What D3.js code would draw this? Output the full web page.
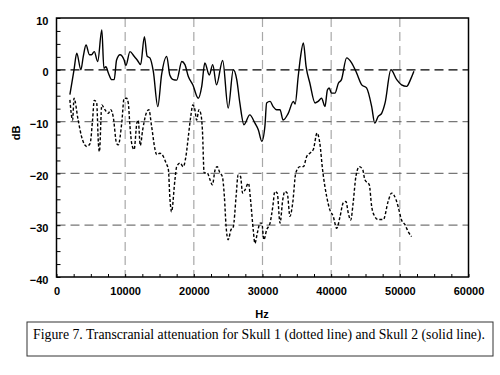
<!DOCTYPE html>
<html>
<head>
<meta charset="utf-8">
<script src="https://cdn.jsdelivr.net/npm/d3@7"></script>
<style>
body { margin: 0; background: #fff; }
</style>
</head>
<body>
<div id="chart"></div>
<script>
// Skull 1 (dotted line): frequency in Hz and attenuation in dB.
const skull1Hz = [1950, 2350, 2550, 3150, 3650, 4400, 4900, 5250, 5500, 5850, 6100, 6250, 6600, 7050, 7550, 7900, 8250, 8750, 9000, 9500,
    9850, 10200, 10450, 10700, 10950, 11300, 11700, 11900, 12200, 12550, 13150, 13450, 13850, 14350, 14600, 15050, 15550, 15950, 16300, 16500,
    16750, 17250, 17500, 18000, 18450, 18850, 19200, 19550, 19850, 20150, 20400, 20750, 21050, 21250, 21500, 21950, 22350, 22700, 23100, 23400,
    23800, 24150, 24450, 24700, 25000, 25400, 25750, 26150, 26450, 26800, 27100, 27450, 27950, 28300, 28650, 28900, 29250, 29650, 29900, 30200,
    30600, 31100, 31500, 31800, 32150, 32550, 32950, 33250, 33600, 34000, 34400, 34850, 35450, 35950, 36450, 36900, 37400, 37950, 38350, 38750,
    39350, 39800, 40300, 40800, 41300, 41750, 42150, 42500, 42850, 43200, 43600, 44100, 44600, 44900, 45550, 45900, 46350, 46850, 47600, 48300,
    48800, 49450, 49750, 50250, 50750, 51200, 51700];
const skull1Db = [-5.8, -9.7, -5.5, -9.7, -12.9, -14.8, -14.2, -9.7, -5.9, -6.4, -14.2, -15.8, -6.8, -7.7, -8.4, -7.7, -9.0, -14.2, -14.5, -10.3,
    -5.5, -5.5, -6.4, -10.9, -14.2, -15.4, -10.3, -9.7, -14.6, -11.6, -8.1, -7.7, -10.9, -15.4, -16.4, -16.1, -16.7, -18.0, -19.3, -24.5,
    -27.4, -21.2, -18.7, -18.0, -18.7, -16.7, -12.9, -9.0, -6.8, -7.7, -9.7, -7.7, -8.7, -11.6, -19.9, -19.9, -21.2, -22.2, -19.3, -18.7,
    -19.9, -20.6, -24.5, -30.3, -32.8, -30.9, -30.3, -24.5, -20.3, -20.6, -23.8, -23.2, -21.9, -25.7, -30.9, -33.5, -31.5, -29.6, -29.6, -32.8,
    -30.9, -29.6, -26.4, -23.5, -23.8, -29.6, -25.1, -23.5, -23.8, -28.3, -25.7, -19.9, -18.7, -18.7, -16.7, -16.1, -15.4, -12.2, -14.2, -19.3,
    -24.5, -27.0, -28.3, -30.6, -28.3, -25.7, -25.4, -27.7, -29.0, -25.7, -20.6, -18.7, -19.3, -21.2, -22.2, -26.4, -28.3, -28.9, -28.9, -25.4,
    -23.8, -25.1, -26.4, -29.0, -29.9, -31.2, -32.2];

// Skull 2 (solid line).
const skull2Hz = [1950, 2550, 2950, 3550, 3900, 4300, 4800, 5100, 5500, 6000, 6600, 6900, 7200, 7550, 8050, 8400, 8750, 9250, 9850, 10100,
    10700, 11300, 11750, 12250, 12800, 13200, 13600, 14100, 14750, 15300, 16050, 16500, 17000, 17500, 18250, 18700, 19200, 19850, 20650, 21150,
    21600, 22250, 22750, 23300, 24200, 25000, 25750, 26250, 26700, 27300, 28150, 28900, 29400, 29900, 30350, 30600, 31100, 31550, 32050, 32550,
    33000, 33750, 34500, 34750, 35200, 35550, 35950, 36350, 36900, 37650, 38100, 38600, 39100, 39450, 39700, 40050, 40550, 41050, 41500, 42250,
    43000, 43700, 44450, 45150, 45900, 46350, 46850, 47350, 47850, 48700, 49550, 50250, 51000, 51550, 52050];
const skull2Db = [-4.8, 0, 3.2, 0, 2.6, 4.8, 2.9, 2.9, 3.5, 1.6, 7.7, 0.3, 0.6, -0.6, -1.9, -1.9, 1.9, 2.9, 1.9, 0.8,
    3.5, 2.6, 1.9, 1.0, 6.4, 2.6, 2.3, -0.3, -7.1, -1.0, 2.6, -1.0, -1.9, -2.0, 1.6, 1.0, -1.3, -2.9, -5.5, -3.2,
    1.3, -1.0, 1.0, -2.9, 1.8, -7.4, 0, -1.9, -6.4, -10.6, -8.7, -10.3, -11.6, -13.8, -10.9, -6.4, -6.1, -7.1, -7.7, -7.7,
    -9.7, -8.4, -6.1, -6.6, -1.3, 2.6, 5.2, 0.6, -2.6, -6.4, -6.1, -5.5, -7.1, -3.9, -3.5, -4.5, -4.5, -2.6, -1.9, 2.3,
    1.3, -0.6, -2.9, -3.5, -7.1, -10.3, -9.0, -8.4, -6.4, 0, -1.9, -2.9, -3.2, -1.9, -0.3];

// Axis ticks.
const xTicks = [0, 10000, 20000, 30000, 40000, 50000, 60000];
const yTicks = [-40, -30, -20, -10, 0, 10];

const caption = "Figure 7. Transcranial attenuation for Skull 1 (dotted line) and Skull 2 (solid line).";

const w = 500, h = 375;
const plotLeft = 56.5, plotRight = 468.5, plotTop = 18, plotBottom = 277;

const svg = d3.select("#chart")
    .append("svg")
    .attr("width", w)
    .attr("height", h)
    .style("font-family", "Arial, 'Liberation Sans', sans-serif");

const xScale = d3.scaleLinear().domain([0, 60000]).range([plotLeft, plotRight]);
const yScale = d3.scaleLinear().domain([-40, 10]).range([plotBottom, plotTop]);

// Vertical grid lines (light grey dashes).
svg.append("g")
    .selectAll("line")
    .data(xTicks.slice(1, -1))
    .enter()
    .append("line")
    .attr("x1", d => xScale(d))
    .attr("x2", d => xScale(d))
    .attr("y1", plotTop)
    .attr("y2", plotBottom)
    .attr("stroke", "#a8a8a8")
    .attr("stroke-width", 1.2)
    .attr("stroke-dasharray", "9,5");

// Horizontal grid lines; the zero line is black.
svg.append("g")
    .selectAll("line")
    .data(yTicks.slice(1, -1))
    .enter()
    .append("line")
    .attr("x1", plotLeft)
    .attr("x2", plotRight)
    .attr("y1", d => yScale(d))
    .attr("y2", d => yScale(d))
    .attr("stroke", d => d === 0 ? "#000" : "#777")
    .attr("stroke-width", 1.2)
    .attr("stroke-dasharray", "9,5");

// Minor ticks, pointing into the plot.
const yMinor = d3.axisLeft(yScale).tickValues(d3.range(-40, 10.01, 2.5)).tickSize(-4).tickFormat("");
svg.append("g").attr("transform", `translate(${plotLeft},0)`).call(yMinor)
    .call(g => g.select(".domain").remove());
const xMinor = d3.axisBottom(xScale).tickValues(d3.range(0, 60001, 2500)).tickSize(-3).tickFormat("");
svg.append("g").attr("transform", `translate(0,${plotBottom})`).call(xMinor)
    .call(g => g.select(".domain").remove());

// Tick labels.
const yAxis = d3.axisLeft(yScale).tickValues(yTicks).tickSize(0).tickPadding(8).tickFormat(d3.format("d"));
svg.append("g").attr("transform", `translate(${plotLeft},0)`).call(yAxis)
    .call(g => g.select(".domain").remove())
    .selectAll("text")
    .attr("font-size", 11)
    .attr("font-weight", "bold")
    .attr("fill", "#000")
    .attr("dy", "0.55em");

const xAxis = d3.axisBottom(xScale).tickValues(xTicks).tickSize(0).tickPadding(10).tickFormat(d3.format("d"));
svg.append("g").attr("transform", `translate(0,${plotBottom})`).call(xAxis)
    .call(g => g.select(".domain").remove())
    .selectAll("text")
    .attr("font-size", 11)
    .attr("font-weight", "bold")
    .attr("fill", "#000");

// The two curves.
const line = d3.line()
    .x(d => xScale(d[0]))
    .y(d => yScale(d[1]))
    .curve(d3.curveMonotoneX);

svg.append("path")
    .datum(skull1Hz.map((f, i) => [f, skull1Db[i]]))
    .attr("d", line)
    .attr("fill", "none")
    .attr("stroke", "#000")
    .attr("stroke-width", 1.4)
    .attr("stroke-dasharray", "3,2");

svg.append("path")
    .datum(skull2Hz.map((f, i) => [f, skull2Db[i]]))
    .attr("d", line)
    .attr("fill", "none")
    .attr("stroke", "#000")
    .attr("stroke-width", 1.4);

// Plot frame.
svg.append("rect")
    .attr("x", plotLeft)
    .attr("y", plotTop)
    .attr("width", plotRight - plotLeft)
    .attr("height", plotBottom - plotTop)
    .attr("fill", "none")
    .attr("stroke", "#000")
    .attr("stroke-width", 1.5);

// Axis titles.
svg.append("text")
    .text("dB")
    .attr("transform", "translate(20,133) rotate(-90)")
    .attr("text-anchor", "middle")
    .attr("font-size", 11)
    .attr("font-weight", "bold");

svg.append("text")
    .text("Hz")
    .attr("x", 262)
    .attr("y", 318)
    .attr("text-anchor", "middle")
    .attr("font-size", 11)
    .attr("font-weight", "bold");

// Caption box.
svg.append("rect")
    .attr("x", 27)
    .attr("y", 322)
    .attr("width", 466)
    .attr("height", 34)
    .attr("fill", "#fff")
    .attr("stroke", "#333")
    .attr("stroke-width", 1);

svg.append("text")
    .text(caption)
    .attr("x", 259)
    .attr("y", 339)
    .attr("text-anchor", "middle")
    .attr("font-family", "'Liberation Serif', 'Times New Roman', serif")
    .attr("font-size", 13.75);
</script>
</body>
</html>
